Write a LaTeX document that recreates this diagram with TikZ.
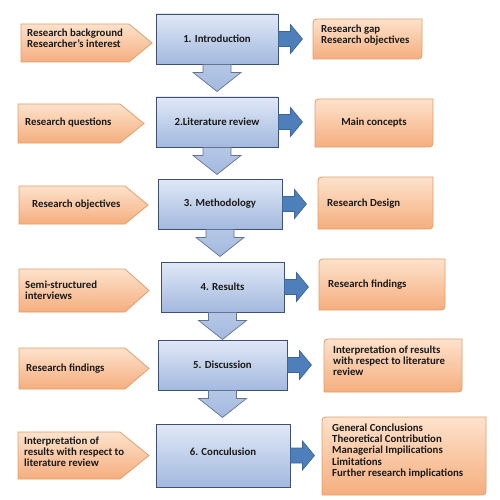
\documentclass[tikz,border=0pt]{standalone}
\usepackage{fontspec}
\setmainfont{Carlito}
\usetikzlibrary{calc}
\definecolor{blueL}{HTML}{E0E8F6}
\definecolor{blueD}{HTML}{A3B9DF}
\definecolor{blueB}{HTML}{3E5075}
\definecolor{arrF}{HTML}{4F7FBA}
\definecolor{arrB}{HTML}{3D6597}
\definecolor{orL}{HTML}{FDE2CC}
\definecolor{orD}{HTML}{F5AE7E}
\definecolor{orB}{HTML}{E0A06A}
\tikzset{
  mainbox/.style={draw=blueB, line width=0.9pt, top color=blueL, bottom color=blueD, inner sep=0pt, font=\fontsize{10.8}{11.6}\selectfont\bfseries, text=black!90},
  darrow/.style={draw=blueB!80, line width=0.7pt, top color=blueD!70!blueL, bottom color=blueD},
  rarrow/.style={draw=arrB, line width=0.7pt, fill=arrF},
  orshape/.style={draw=orB, line width=0.8pt, top color=orL, bottom color=orD},
  txt/.style={inner sep=0pt, align=left, font=\fontsize{10.8}{11.2}\selectfont\bfseries, text=black!90},
}
\newcommand\downarr[1]{%
  \shade[darrow] ($(#1.south)+(-14,0)$) -- ++(0,8) -- ++(-10,0) -- ($(#1.south)+(0,27)$) -- ($(#1.south)+(24,8)$) -- ++(-10,0) -- ++(0,-8) -- cycle;}
\newcommand\rightarr[1]{%
  \fill[rarrow] ($(#1.east)+(0,-7.5)$) -- ++(12,0) -- ++(0,-7) -- ($(#1.east)+(24,0)$) -- ($(#1.east)+(12,14.5)$) -- ++(0,-7) -- ++(-12,0) -- cycle;}
\newcommand\pent[5]{% x1, tipstart, tip, y1, y2
  \shade[orshape] (#1,#4) -- (#2,#4) -- (#3,{(#4+#5)/2}) -- (#2,#5) -- (#1,#5) -- cycle;}
\newcommand\rbox[4]{% x1,x2,y1,y2
  \shade[orshape] (#1,#4) -- (#1,#3+8) .. controls (#1,#3) .. (#1+8,#3) -- (#2,#3) -- (#2,#4-8) .. controls (#2,#4) .. (#2-8,#4) -- cycle;}
\begin{document}
\begin{tikzpicture}[x=1pt,y=-1pt]
\useasboundingbox[fill=white] (0,0) rectangle (500,500);
% main boxes
\node[mainbox, minimum width=122pt, minimum height=50pt] (m1) at (217,39) {1. Introduction};
\node[mainbox, minimum width=122pt, minimum height=50pt] (m2) at (217,122) {2.Literature review};
\node[mainbox, minimum width=124pt, minimum height=50pt] (m3) at (220,204) {3. Methodology};
\node[mainbox, minimum width=123pt, minimum height=50pt] (m4) at (222.5,287) {4. Results};
\node[mainbox, minimum width=129pt, minimum height=50pt] (m5) at (222.5,365) {5. Discussion};
\node[mainbox, minimum width=134pt, minimum height=63pt, text depth=8pt] (m6) at (223,455.5) {6. Conculusion};
% down arrows
\downarr{m1}\downarr{m2}\downarr{m3}\downarr{m4}\downarr{m5}
% right arrows
\rightarr{m1}\rightarr{m2}\rightarr{m3}\rightarr{m4}\rightarr{m5}\rightarr{m6}
% left pentagons
\pent{21}{129}{152}{24}{62}
\pent{18}{120}{144}{104}{143}
\pent{19}{125}{148}{186}{224}
\pent{19}{125}{149}{269}{312}
\pent{19}{125}{149}{348}{389}
\pent{18}{120}{149}{432}{479}
\node[txt, anchor=west] (l1) at (27,38.5) {Research background\\Researcher's interest};
\node[txt, anchor=west] (l2) at (25,123) {Research questions};
\node[txt, anchor=west] (l3) at (32,204.5) {Research objectives};
\node[txt, anchor=west] (l4) at (25,290.5) {Semi-structured\\interviews};
\node[txt, anchor=west] (l5) at (26,369) {Research findings};
\node[txt, anchor=west] (l6) at (24,451.5) {Interpretation of\\results with respect to\\literature review};
% right boxes
\rbox{313}{422}{19}{59}
\rbox{315}{433}{99}{147}
\rbox{318}{433}{177}{229}
\rbox{319}{445}{259}{310}
\rbox{324}{462}{339}{392}
\rbox{322}{486}{417}{495}
\node[txt, anchor=west] (r1) at (321,35.5) {Research gap\\Research objectives};
\node[txt] (r2) at (374,123) {Main concepts};
\node[txt, anchor=west] (r3) at (327,203.5) {Research Design};
\node[txt, anchor=west] (r4) at (328,285) {Research findings};
\node[txt, anchor=west] (r5) at (333,361) {Interpretation of results\\with respect to literature\\review};
\node[txt, anchor=west] (r6) at (332,451) {General Conclusions\\Theoretical Contribution\\Managerial Impilications\\Limitations\\Further research implications};
\end{tikzpicture}
\end{document}
